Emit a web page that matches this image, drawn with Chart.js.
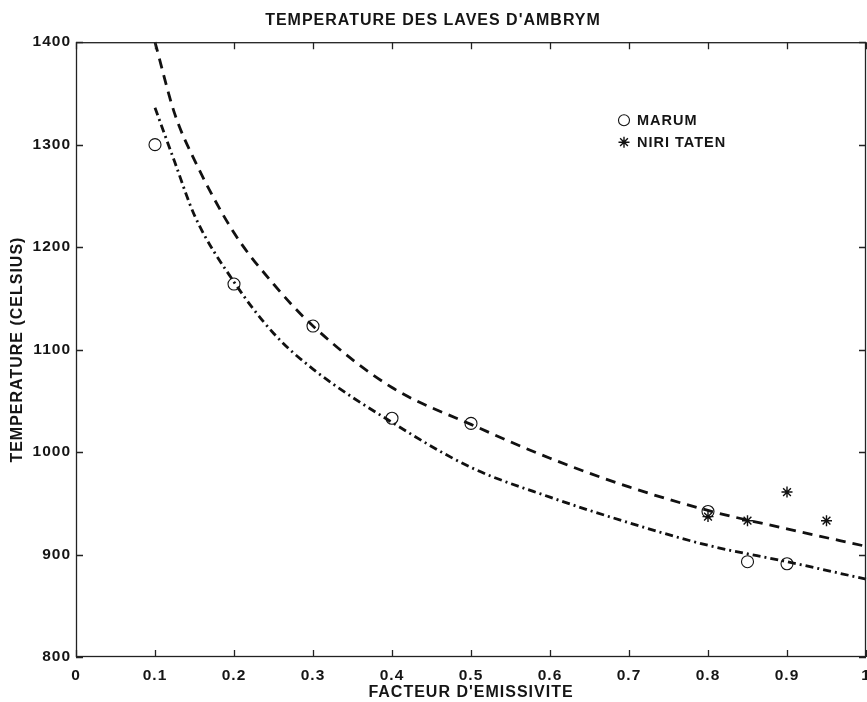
<!DOCTYPE html>
<html>
<head>
<meta charset="utf-8">
<script src="https://cdn.jsdelivr.net/npm/chart.js@4/dist/chart.umd.min.js"></script>
<style>
html,body{margin:0;padding:0;background:#fff;}
#wrap{width:867px;height:702px;position:relative;}
</style>
</head>
<body>
<div id="wrap"><canvas id="c" width="867" height="702"></canvas></div>
<script>
// ---- data ----
const marumX = [0.1, 0.2, 0.3, 0.4, 0.5, 0.8, 0.85, 0.9];
const marumY = [1300, 1164, 1123, 1033, 1028, 942, 893, 891];
const niriX = [0.8, 0.85, 0.9, 0.95];
const niriY = [937, 933, 961, 933];
const dashedX = [0.1, 0.125, 0.15, 0.2, 0.25, 0.3, 0.4, 0.5, 0.6, 0.7, 0.8, 0.9, 1.0];
const dashedY = [1400, 1330, 1285, 1214, 1164, 1123, 1063, 1027, 994, 966, 943, 925, 908];
const dashDotX = [0.1, 0.125, 0.15, 0.2, 0.25, 0.3, 0.4, 0.5, 0.6, 0.7, 0.8, 0.9, 1.0];
const dashDotY = [1336, 1283, 1231, 1166, 1116, 1081, 1029, 985, 956, 931, 909, 893, 876];
const xTicks = [0, 0.1, 0.2, 0.3, 0.4, 0.5, 0.6, 0.7, 0.8, 0.9, 1];
const xTickLabels = ['0', '0.1', '0.2', '0.3', '0.4', '0.5', '0.6', '0.7', '0.8', '0.9', '1'];
const yTicks = [800, 900, 1000, 1100, 1200, 1300, 1400];
const legendLabels = ['MARUM', 'NIRI TATEN'];

const pts = (xs, ys) => xs.map((x, i) => ({x: x, y: ys[i]}));
const FONT = "'Liberation Sans', Arial, Helvetica, sans-serif";
const INK = '#151515';
const LS = '1px';

const spacing = {
  id: 'spacing',
  beforeInit(chart) { chart.ctx.letterSpacing = LS; },
  beforeLayout(chart) { chart.ctx.letterSpacing = LS; },
  beforeDraw(chart) { chart.ctx.letterSpacing = LS; }
};

const frameTicks = {
  id: 'frameTicks',
  afterDraw(chart) {
    const {ctx, chartArea: a, scales: {x, y}} = chart;
    ctx.save();
    ctx.letterSpacing = LS;
    ctx.strokeStyle = '#222';
    ctx.lineWidth = 1.3;
    ctx.strokeRect(a.left + 0.5, a.top + 0.5, a.right - a.left - 1, a.bottom - a.top - 1);
    const L = 7;
    ctx.beginPath();
    xTicks.forEach(v => {
      const px = Math.round(x.getPixelForValue(v)) + 0.5;
      ctx.moveTo(px, a.bottom); ctx.lineTo(px, a.bottom - L);
      ctx.moveTo(px, a.top); ctx.lineTo(px, a.top + L);
    });
    yTicks.forEach(v => {
      const py = Math.round(y.getPixelForValue(v)) + 0.5;
      ctx.moveTo(a.left, py); ctx.lineTo(a.left + L, py);
      ctx.moveTo(a.right, py); ctx.lineTo(a.right - L, py);
    });
    ctx.stroke();
    // x tick labels (drawn via the x scale)
    ctx.fillStyle = INK;
    ctx.font = 'bold 15.5px ' + FONT;
    ctx.textAlign = 'center';
    ctx.textBaseline = 'middle';
    xTicks.forEach((v, i) => {
      ctx.fillText(xTickLabels[i], x.getPixelForValue(v), a.bottom + 19);
    });
    // legend
    const lx = a.left + 548, ly = a.top + 78;
    ctx.font = 'bold 14.5px ' + FONT;
    ctx.textAlign = 'left';
    const styles = [
      {pointStyle: 'circle', radius: 5.5, borderWidth: 1.1},
      {pointStyle: 'star', radius: 5.5, borderWidth: 1.4}
    ];
    legendLabels.forEach((t, i) => {
      const yy = ly + i * 22;
      ctx.strokeStyle = '#111';
      ctx.fillStyle = 'rgba(0,0,0,0)';
      ctx.lineWidth = styles[i].borderWidth;
      Chart.helpers.drawPoint(ctx, styles[i], lx, yy);
      ctx.fillStyle = INK;
      ctx.fillText(t, lx + 13, yy + 1);
    });
    ctx.restore();
  }
};

const cv = document.getElementById('c');
cv.getContext('2d').letterSpacing = LS;

new Chart(cv, {
  type: 'scatter',
  data: {
    datasets: [
      {
        label: 'dashed', data: pts(dashedX, dashedY), showLine: true,
        borderColor: '#111', borderWidth: 2.8, borderDash: [10, 7],
        pointRadius: 0, cubicInterpolationMode: 'monotone', fill: false
      },
      {
        label: 'dashdot', data: pts(dashDotX, dashDotY), showLine: true,
        borderColor: '#111', borderWidth: 2.8, borderDash: [8, 4, 2, 4],
        pointRadius: 0, cubicInterpolationMode: 'monotone', fill: false
      },
      {
        label: legendLabels[0], data: pts(marumX, marumY), showLine: false,
        pointStyle: 'circle', pointRadius: 6, borderColor: '#111',
        backgroundColor: 'rgba(0,0,0,0)', borderWidth: 1.1
      },
      {
        label: legendLabels[1], data: pts(niriX, niriY), showLine: false,
        pointStyle: 'star', pointRadius: 5.5, borderColor: '#111',
        backgroundColor: 'rgba(0,0,0,0)', borderWidth: 1.4
      }
    ]
  },
  options: {
    responsive: false,
    animation: false,
    clip: false,
    layout: {autoPadding: false, padding: {left: 0, right: 1, top: 0, bottom: 0}},
    plugins: {
      legend: {display: false},
      tooltip: {enabled: false},
      title: {
        display: true,
        text: "TEMPERATURE DES LAVES D'AMBRYM",
        color: INK,
        font: {family: FONT, size: 16, weight: 'bold'},
        padding: {top: 11, bottom: 12}
      }
    },
    scales: {
      x: {
        type: 'linear', min: 0, max: 1,
        grid: {display: false, drawTicks: false},
        border: {display: false},
        afterBuildTicks(s) { s.ticks = xTicks.map(v => ({value: v})); },
        afterFit(s) { s.paddingRight = 0; s.paddingLeft = 0; s.height = 45; },
        ticks: {display: false},
        title: {
          display: true, text: "FACTEUR D'EMISSIVITE", color: INK,
          font: {family: FONT, size: 16, weight: 'bold'}, padding: {top: 0, bottom: 0}
        }
      },
      y: {
        type: 'linear', min: 800, max: 1400,
        grid: {display: false, drawTicks: false},
        border: {display: false},
        afterBuildTicks(s) { s.ticks = yTicks.map(v => ({value: v})); },
        afterFit(s) { s.width = 76; },
        ticks: {
          color: INK, padding: 5, autoSkip: false,
          font: {family: FONT, size: 15.5, weight: 'bold'},
          callback: v => String(v)
        },
        title: {
          display: true, text: 'TEMPERATURE (CELSIUS)', color: INK,
          font: {family: FONT, size: 16, weight: 'bold'}, padding: {top: 8, bottom: 0}
        }
      }
    }
  },
  plugins: [spacing, frameTicks]
});
</script>
</body>
</html>
